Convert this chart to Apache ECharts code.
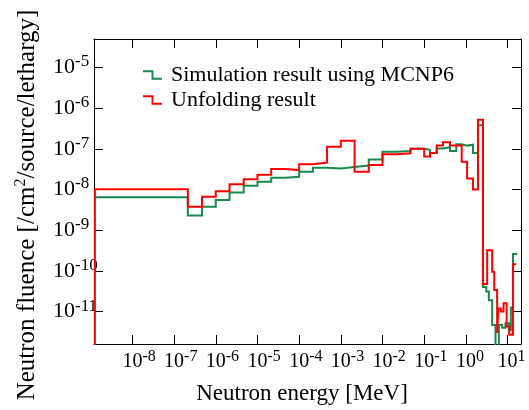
<!DOCTYPE html>
<html><head><meta charset="utf-8">
<script src="https://cdn.jsdelivr.net/npm/echarts@6/dist/echarts.min.js"></script>
<style>html,body{margin:0;padding:0;background:#fff}#c{width:529px;height:410px}</style>
</head><body><div id="c"></div>
<script>
// Bin edges (MeV) and values (/cm2/source/lethargy)
const sharedEdges = [1.26e-9, 2.14e-7, 4.68e-7, 1.0e-6, 2.14e-6, 4.68e-6, 1.0e-5, 2.14e-5, 4.68e-5,
  1.0e-4, 2.14e-4, 4.68e-4, 1.0e-3, 2.14e-3, 4.68e-3, 1.0e-2, 2.14e-2, 4.68e-2, 0.1, 0.138, 0.2,
  0.282, 0.417, 0.589, 0.794, 1.07, 1.48, 1.95];
const simTailEdges = [2.57, 3.09, 3.55, 4.27, 5.13, 6.17, 7.41, 8.91, 10.7, 12.0, 13.5, 17.0];
const unfTailEdges = [2.57, 3.24, 4.27, 4.79, 5.62, 6.0, 6.9, 8.0, 9.5, 11.0, 13.5, 16.2];
const simValues = [6.5e-9, 2.3e-9, 3.8e-9, 5.5e-9, 8.5e-9, 1.23e-8, 1.55e-8, 1.95e-8, 2.05e-8, 2.75e-8,
  3.45e-8, 3.3e-8, 3.6e-8, 3.9e-8, 5.5e-8, 8.5e-8, 8.9e-8, 1.0e-7, 9.5e-8, 7.9e-8, 1.02e-7, 1.1e-7,
  8.9e-8, 1.29e-7, 1.2e-7, 1.26e-7, 7.9e-8, 3.8e-7,
  4.0e-11, 3.1e-11, 1.9e-11, 4.7e-12, 3e-13, 4.7e-12, 4.0e-12, 5.2e-12, 3.5e-12, 1.26e-11, 2.6e-10];
const unfValues = [1.02e-8, 3.8e-9, 6.6e-9, 9.1e-9, 1.35e-8, 1.78e-8, 2.3e-8, 3.2e-8, 3.0e-8, 4.2e-8,
  4.6e-8, 1.12e-7, 1.58e-7, 2.75e-8, 4.0e-8, 7.4e-8, 7.8e-8, 1.0e-7, 6.5e-8, 7.9e-8, 1.2e-7, 1.45e-7,
  1.2e-7, 1.2e-7, 4.8e-8, 1.86e-8, 1.0e-8, 5.2e-7,
  4.8e-11, 3.2e-10, 9.5e-11, 3.4e-11, 3.0e-12, 1.2e-11, 1.0e-11, 1.6e-11, 4.3e-12, 2.7e-12, 1.45e-10];
const xTickValues = [1e-8, 1e-7, 1e-6, 1e-5, 1e-4, 1e-3, 1e-2, 1e-1, 1e0, 1e1];
const yTickValues = [1e-11, 1e-10, 1e-9, 1e-8, 1e-7, 1e-6, 1e-5];
const seriesNames = ['Simulation result using MCNP6', 'Unfolding result'];
const floorValue = 1e-14;

function stepPoints(edges, values, startFromFloor) {
  const pts = [];
  if (startFromFloor) pts.push([edges[0], floorValue]);
  for (let i = 0; i < values.length; i++) pts.push([edges[i], values[i]]);
  pts.push([edges[values.length], values[values.length - 1]]);
  return pts;
}
const simEdges = sharedEdges.concat(simTailEdges);
const unfEdges = sharedEdges.concat(unfTailEdges);

const FONT = 'Liberation Serif';
const expOf = v => String(Math.round(Math.log10(v)));
const axisLine = {show: true, onZero: false, lineStyle: {color: '#000', width: 1}};
const xMin = 1.2e-9, xMax = 21, yMin = 1.6e-12, yMax = 5e-5;
const stepIcon = 'path://M0,0 L11,0 L11,8 L20,8 L20,10 L9,10 L9,2 L0,2 Z';
const tick = vals => ({show: true, inside: true, length: 9, customValues: vals, lineStyle: {color: '#000'}});

const chart = echarts.init(document.getElementById('c'), null, {renderer: 'canvas'});
chart.setOption({
  animation: false,
  backgroundColor: '#fff',
  grid: {left: 94, right: 8, top: 39, bottom: 66, show: false},
  legend: {
    orient: 'vertical', left: 138, top: 59, itemWidth: 19, itemHeight: 10, itemGap: 3,
    textStyle: {fontFamily: FONT, fontSize: 22, color: '#000', padding: [0, 0, 0, 4]},
    data: [{name: seriesNames[0], icon: stepIcon}, {name: seriesNames[1], icon: stepIcon}]
  },
  xAxis: [{
    // main bottom axis: frame line, ticks, and the "10" part of each label
    type: 'log', logBase: 10, min: xMin, max: xMax, position: 'bottom',
    axisLine: axisLine, splitLine: {show: false}, axisTick: tick(xTickValues),
    axisLabel: {show: true, customValues: xTickValues, margin: 3, hideOverlap: false,
      formatter: () => '{b|10}',
      rich: {b: {fontFamily: FONT, fontSize: 20, lineHeight: 30, color: '#000'}}}
  }, {
    type: 'log', logBase: 10, min: xMin, max: xMax, position: 'top',
    axisLine: axisLine, splitLine: {show: false}, axisTick: tick(xTickValues),
    axisLabel: {show: false}
  }, {
    // exponent part of the bottom labels
    type: 'log', logBase: 10, min: xMin, max: xMax, position: 'bottom',
    axisLine: {show: false}, splitLine: {show: false}, axisTick: {show: false},
    axisLabel: {show: true, customValues: xTickValues, margin: 3, align: 'left', hideOverlap: false,
      padding: [0, 0, 0, 10],
      formatter: v => '{s|' + expOf(v) + '}',
      rich: {s: {fontFamily: FONT, fontSize: 16, lineHeight: 20, color: '#000'}}}
  }],
  yAxis: [{
    type: 'log', logBase: 10, min: yMin, max: yMax, position: 'left',
    axisLine: axisLine, splitLine: {show: false}, axisTick: tick(yTickValues),
    axisLabel: {show: true, customValues: yTickValues, margin: 41, align: 'left', hideOverlap: false,
      formatter: v => '{b|10}{s|' + expOf(v) + '}',
      rich: {
        b: {fontFamily: FONT, fontSize: 22, lineHeight: 28, color: '#000'},
        s: {fontFamily: FONT, fontSize: 17, lineHeight: 12, verticalAlign: 'top', color: '#000'}
      }}
  }, {
    type: 'log', logBase: 10, min: yMin, max: yMax, position: 'right',
    axisLine: axisLine, splitLine: {show: false}, axisTick: tick(yTickValues),
    axisLabel: {show: false}
  }],
  graphic: [{
    type: 'text', x: 27, y: 205, rotation: Math.PI / 2,
    style: {
      text: '{n|Neutron fluence [/cm}{s|2}{n|/source/lethargy]}', align: 'center', verticalAlign: 'middle',
      rich: {
        n: {fontFamily: FONT, fontSize: 25, lineHeight: 28, fill: '#000'},
        s: {fontFamily: FONT, fontSize: 16, lineHeight: 14, verticalAlign: 'top', fill: '#000'}
      }
    }
  }, {
    type: 'text', x: 302, y: 394,
    style: {text: 'Neutron energy [MeV]', fontFamily: FONT, fontSize: 23, fill: '#000', align: 'center', verticalAlign: 'middle'}
  }],
  series: [{
    name: seriesNames[0], type: 'line', step: 'end', symbol: 'none', clip: true,
    color: '#178a4c', lineStyle: {width: 2, color: '#178a4c', join: 'miter'},
    data: stepPoints(simEdges, simValues, false)
  }, {
    name: seriesNames[1], type: 'line', step: 'end', symbol: 'none', clip: true,
    color: '#ff0000', lineStyle: {width: 2, color: '#ff0000', join: 'miter'},
    data: stepPoints(unfEdges, unfValues, true)
  }]
});
</script>
</body></html>
